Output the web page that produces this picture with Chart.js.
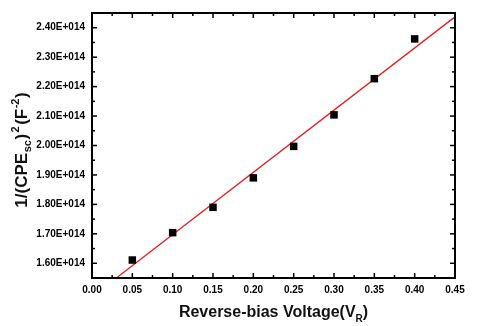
<!DOCTYPE html>
<html>
<head>
<meta charset="utf-8">
<script src="https://cdn.jsdelivr.net/npm/chart.js@4"></script>
<style>
  html, body { margin: 0; padding: 0; background: #fff; }
</style>
</head>
<body>
<canvas id="chart" width="478" height="326"></canvas>
<script>
// data
const voltage = [0.05, 0.10, 0.15, 0.20, 0.25, 0.30, 0.35, 0.40];
const invCapSq = [1.611e14, 1.704e14, 1.790e14, 1.890e14, 1.997e14, 2.104e14, 2.227e14, 2.362e14];
const fitVoltage = [0.0306, 0.45];
const fitValue = [1.551e14, 2.437e14];
const xTicks = [0, 0.05, 0.10, 0.15, 0.20, 0.25, 0.30, 0.35, 0.40, 0.45];
const yTicks = [1.6e14, 1.7e14, 1.8e14, 1.9e14, 2.0e14, 2.1e14, 2.2e14, 2.3e14, 2.4e14];

Chart.defaults.font.family = "'Liberation Sans', Arial, sans-serif";
Chart.defaults.color = "#000";

// inward ticks on all four sides + frame
const frame = {
  id: "frame",
  afterDatasetsDraw(chart) {
    const { ctx, chartArea: a, scales: { x, y } } = chart;
    ctx.save();
    ctx.strokeStyle = "#000";
    ctx.lineWidth = 1.5;
    const line = (x1, y1, x2, y2) => {
      ctx.beginPath();
      ctx.moveTo(x1, y1);
      ctx.lineTo(x2, y2);
      ctx.stroke();
    };
    xTicks.forEach((v, i) => {
      let px = x.getPixelForValue(v);
      line(px, a.bottom, px, a.bottom - 5);
      line(px, a.top, px, a.top + 5);
      if (i < xTicks.length - 1) {
        px = x.getPixelForValue((v + xTicks[i + 1]) / 2);
        line(px, a.bottom, px, a.bottom - 3);
        line(px, a.top, px, a.top + 3);
      }
    });
    yTicks.forEach((v, i) => {
      let py = y.getPixelForValue(v);
      line(a.left, py, a.left + 5, py);
      line(a.right, py, a.right - 5, py);
      if (i < yTicks.length - 1) {
        py = y.getPixelForValue((v + yTicks[i + 1]) / 2);
        line(a.left, py, a.left + 3, py);
        line(a.right, py, a.right - 3, py);
      }
    });
    ctx.lineWidth = 2;
    ctx.strokeRect(a.left, a.top, a.width, a.height);
    ctx.restore();
  },
};

// axis titles with sub/superscripts
function drawRich(ctx, parts, cx, baseline) {
  let total = 0;
  parts.forEach((p) => {
    ctx.font = "bold " + p.size + "px 'Liberation Sans', Arial, sans-serif";
    p.w = ctx.measureText(p.t).width + (p.gap || 0);
    total += p.w;
  });
  let px = cx - total / 2;
  parts.forEach((p) => {
    ctx.font = "bold " + p.size + "px 'Liberation Sans', Arial, sans-serif";
    ctx.fillText(p.t, px + (p.gap || 0) / 2, baseline + p.dy);
    px += p.w;
  });
}

const titles = {
  id: "titles",
  afterDraw(chart) {
    const { ctx, chartArea: a } = chart;
    ctx.save();
    ctx.fillStyle = "#111";
    ctx.textAlign = "left";
    ctx.textBaseline = "alphabetic";
    drawRich(ctx, [
      { t: "Reverse-bias Voltage(V", size: 16, dy: 0 },
      { t: "R", size: 10, dy: 5 },
      { t: ")", size: 16, dy: 0 },
    ], (a.left + a.right) / 2, 317);
    ctx.translate(27, 150);
    ctx.rotate(-Math.PI / 2);
    drawRich(ctx, [
      { t: "1/(CPE", size: 17, dy: 0 },
      { t: "sc", size: 11, dy: 4, gap: 1 },
      { t: ")", size: 17, dy: 0 },
      { t: "2", size: 11, dy: -8, gap: 3 },
      { t: "(F", size: 17, dy: 0 },
      { t: "-2", size: 11, dy: -8, gap: 1 },
      { t: ")", size: 17, dy: 0 },
    ], 0, 0);
    ctx.restore();
  },
};

new Chart(document.getElementById("chart"), {
  type: "scatter",
  data: {
    datasets: [
      {
        label: "fit",
        data: fitVoltage.map((v, i) => ({ x: v, y: fitValue[i] })),
        showLine: true,
        borderColor: "#e8191c",
        borderWidth: 1.3,
        pointRadius: 0,
        order: 2,
      },
      {
        label: "data",
        data: voltage.map((v, i) => ({ x: v, y: invCapSq[i] })),
        pointStyle: "rect",
        pointRadius: 5.3,
        backgroundColor: "#000",
        borderColor: "#000",
        borderWidth: 0,
        order: 1,
      },
    ],
  },
  options: {
    responsive: false,
    devicePixelRatio: 1,
    animation: false,
    layout: { padding: { top: 9, right: 23, left: 0, bottom: 0 } },
    plugins: { legend: { display: false }, tooltip: { enabled: false } },
    scales: {
      x: {
        type: "linear",
        min: 0,
        max: 0.45,
        afterBuildTicks: (s) => { s.ticks = xTicks.map((v) => ({ value: v })); },
        afterFit: (s) => { s.height = 48; },
        grid: { display: false, drawTicks: false },
        border: { display: false },
        ticks: {
          padding: 6,
          font: { size: 10, weight: "bold" },
          callback: (v) => v.toFixed(2),
        },
      },
      y: {
        type: "linear",
        min: 1.55e14,
        max: 2.45e14,
        afterBuildTicks: (s) => { s.ticks = yTicks.map((v) => ({ value: v })); },
        afterFit: (s) => { s.width = 92; },
        grid: { display: false, drawTicks: false },
        border: { display: false },
        ticks: {
          padding: 7,
          font: { size: 10, weight: "bold" },
          callback: (v) => (v / 1e14).toFixed(2) + "E+014",
        },
      },
    },
  },
  plugins: [frame, titles],
});
</script>
</body>
</html>
